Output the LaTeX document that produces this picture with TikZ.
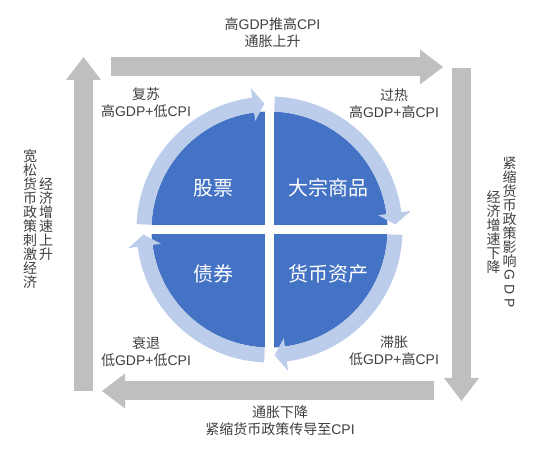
\documentclass[tikz,border=0pt]{standalone}
\usepackage{fontspec}
\usepackage{graphicx}
\setmainfont{Liberation Sans}
\newfontfamily\cjk{Noto Sans CJK SC}
\usetikzlibrary{arrows.meta}
\definecolor{arrowgray}{HTML}{BFBFBF}
\definecolor{darkblue}{HTML}{4472C4}
\definecolor{ringblue}{HTML}{BCCDEB}
\definecolor{txt}{HTML}{404040}
\newcommand\zhs[1]{{\cjk #1}}
\newcommand\rotl[1]{\rotatebox[origin=c]{-90}{\rmfamily #1}}
\newcommand\vertfont{\cjk\fontsize{14}{14}\selectfont\lineskiplimit=-20pt\relax\lineskip=0pt\relax}
\newcommand\ringarc[2]{%
  \pgfmathsetmacro\hb{#2+5.2}%
  \fill[ringblue] (#1:133) arc[start angle=#1,end angle=\hb,radius=133]
    -- (\hb:142.5) -- (#2:126) -- (\hb:109.5) -- (\hb:118)
    arc[start angle=\hb,end angle=#1,radius=118] -- cycle;}
\begin{document}
\begin{tikzpicture}[x=1pt,y=1pt,
  bigarrow/.style={draw=arrowgray, line width=19pt,
    -{Triangle[width=35pt,length=23pt,line width=0pt,fill=arrowgray]}},
  lbl/.style={text=txt, font=\fontsize{14}{17}\selectfont, align=center, inner sep=0pt},
  vlbl/.style={text=txt, font=\vertfont, align=center, inner sep=0pt},
  quad/.style={text=white, font=\cjk\fontsize{20}{24}\selectfont, inner sep=0pt}]
\useasboundingbox (0,0) rectangle (540,449);
\fill[white] (0,0) rectangle (540,449);
% big arrows
\coordinate (topS) at (111,382);   \coordinate (topE) at (443,382);
\coordinate (rgtS) at (461.5,381); \coordinate (rgtE) at (461.5,48);
\coordinate (botS) at (434,58);    \coordinate (botE) at (102,58);
\coordinate (lftS) at (83.5,58);   \coordinate (lftE) at (83.5,392);
\draw[bigarrow] (topS) -- (topE);
\draw[bigarrow] (rgtS) -- (rgtE);
\draw[bigarrow] (botS) -- (botE);
\draw[bigarrow] (lftS) -- (lftE);
% circle
\coordinate (c) at (269.5,219.5);
\begin{scope}[shift={(c)}]
  \fill[darkblue] (0,0) circle[radius=118];
  \fill[white] (-120,-4.5) rectangle (120,4.5);
  \fill[white] (-4.5,-120) rectangle (4.5,120);
  \ringarc{177.7}{92.3}
  \ringarc{87.7}{2.3}
  \ringarc{-2.3}{-87.7}
  \ringarc{-92.3}{-177.7}
\end{scope}
% quadrant labels
\node[quad] (gupiao) at (213,261) {股票};
\node[quad] (dazong) at (328.5,261) {大宗商品};
\node[quad] (zhaiquan) at (213,175.5) {债券};
\node[quad] (huobi) at (328.5,175.5) {货币资产};
% phase labels
\node[lbl] (fusu) at (146,346) {\zhs{复苏}\\\zhs{高}GDP+\zhs{低}CPI};
\node[lbl] (guore) at (394,345) {\zhs{过热}\\\zhs{高}GDP+\zhs{高}CPI};
\node[lbl] (shuaitui) at (146,97.5) {\zhs{衰退}\\\zhs{低}GDP+\zhs{低}CPI};
\node[lbl] (zhizhang) at (394,98) {\zhs{滞胀}\\\zhs{低}GDP+\zhs{高}CPI};
% arrow texts
\node[lbl] (toptxt) at (272.5,416.5) {\zhs{高}GDP\zhs{推高}CPI\\\zhs{通胀上升}};
\node[lbl] (bottxt) at (280,28.5) {\zhs{通胀下降}\\\zhs{紧缩货币政策传导至}CPI};
\node[vlbl] (lv1) at (30,230) {宽\\松\\货\\币\\政\\策\\刺\\激\\经\\济};
\node[vlbl] (lv2) at (46,230) {经\\济\\增\\速\\上\\升};
\node[vlbl] (rv1) at (509.5,216.5) {紧\\缩\\货\\币\\政\\策\\影\\响\\\rotl{G}\\\rotl{D}\\\rotl{P}};
\node[vlbl] (rv2) at (493.5,216.5) {经\\济\\增\\速\\下\\降};
\end{tikzpicture}
\end{document}
